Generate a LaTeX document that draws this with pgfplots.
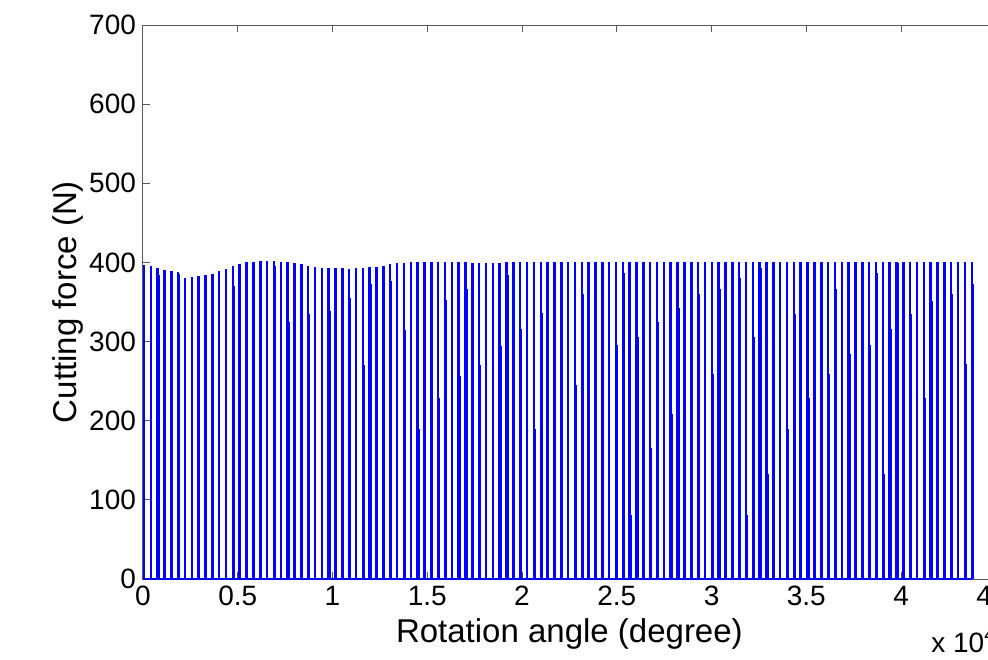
\documentclass[border=0pt]{standalone}
\usepackage{pgfplots}
\pgfplotsset{compat=1.18}
\usepackage{fontspec}
\setmainfont{Liberation Sans}

\begin{document}
\begin{tikzpicture}
\begin{axis}[
    name=ax,
    scale only axis,
    width=426.4pt, height=277pt,
    xmin=0, xmax=4.5, ymin=0, ymax=700,
    xtick={0,0.5,...,4.5},
    xticklabels={0,0.5,1,1.5,2,2.5,3,3.5,4,4.5},
    ytick={0,100,...,700},
    tick align=inside,
    major tick length=3.5pt,
    axis line style={black!65, line width=0.5pt},
    every tick/.style={black!65, line width=0.5pt},
    /pgf/number format/assume math mode=true,
    tick label style={font=\fontsize{14}{14}\selectfont},
    label style={font=\fontsize{16.5}{16.5}\selectfont},
    xlabel={Rotation angle (degree)},
    ylabel={Cutting force (N)},
    xlabel style={at={(axis description cs:0.5,-0.058)}, anchor=north},
    ylabel style={at={(axis description cs:-0.0874,0.5)}, anchor=center},
    clip=false,
]
% baseline between teeth
\addplot[blue, line width=1.2pt] coordinates {(0,0) (4.3731,0)};
% one tooth per revolution
\addplot[blue, line width=1.25pt, ycomb, mark=none] coordinates {
(0.0050,397) (0.0411,395) (0.0772,393.5) (0.1133,390.5) (0.1494,389.3) (0.1855,387.6)
(0.2216,380) (0.2577,381) (0.2938,383) (0.3299,384) (0.3660,386) (0.4021,389.3)
(0.4382,391.8) (0.4743,396) (0.5104,397.5) (0.5465,400) (0.5826,401) (0.6187,402.3)
(0.6548,402.3) (0.6909,402.3) (0.7270,401) (0.7631,401) (0.7992,399) (0.8353,397.8)
(0.8714,395) (0.9075,393.8) (0.9436,393) (0.9797,392.4) (1.0158,392.4) (1.0519,392.4)
(1.0880,391.2) (1.1241,392.4) (1.1602,392.4) (1.1963,393.7) (1.2324,394.8) (1.2685,396)
(1.3046,398) (1.3407,399) (1.3768,399) (1.4129,400) (1.4490,400) (1.4851,400)
(1.5212,400) (1.5573,400) (1.5934,400) (1.6295,400) (1.6656,400) (1.7017,400)
(1.7378,399.3) (1.7739,399.3) (1.8100,399.3) (1.8461,399.3) (1.8822,399.3) (1.9183,400)
(1.9544,400) (1.9905,400) (2.0266,400) (2.0627,400) (2.0988,400) (2.1349,400)
(2.1710,400) (2.2071,400) (2.2432,400) (2.2793,400) (2.3154,400) (2.3515,400)
(2.3876,400) (2.4237,400) (2.4598,400) (2.4959,400) (2.5320,400) (2.5681,400)
(2.6042,400) (2.6403,400) (2.6764,400) (2.7125,400) (2.7486,400) (2.7847,400)
(2.8208,400) (2.8569,400) (2.8930,400) (2.9291,400) (2.9652,400) (3.0013,400)
(3.0374,400) (3.0735,400) (3.1096,400) (3.1457,400) (3.1818,400) (3.2179,400)
(3.2540,400) (3.2901,400) (3.3262,400) (3.3623,400) (3.3984,400) (3.4345,400)
(3.4706,400) (3.5067,400) (3.5428,400) (3.5789,400) (3.6150,400) (3.6511,400)
(3.6872,400) (3.7233,400) (3.7594,400) (3.7955,400) (3.8316,400) (3.8677,400)
(3.9038,400) (3.9399,400) (3.9760,400) (4.0121,400) (4.0482,400) (4.0843,400)
(4.1204,400) (4.1565,400) (4.1926,400) (4.2287,400) (4.2648,400) (4.3009,400)
(4.3370,400) (4.3731,400)
};
% falling edges that show as darker strokes
\addplot[blue, line width=1.25pt, ycomb, mark=none] coordinates {
(0.0812,384) (0.1895,386) (0.3700,343) (0.4783,370) (0.5866,384) (0.6949,395)
(0.7671,325) (0.8754,335) (0.9837,339) (1.0559,236) (1.0920,355) (1.1642,270)
(1.2003,373) (1.2725,300) (1.3086,377) (1.3808,315) (1.4530,190) (1.4891,335)
(1.5613,229) (1.5974,352) (1.6696,257) (1.7057,366) (1.7779,271) (1.8862,294)
(1.9223,384) (1.9584,131) (1.9945,316) (2.0667,190) (2.1028,336) (2.1750,211)
(2.2111,343) (2.2833,245) (2.3194,360) (2.3916,272) (2.4277,373) (2.4999,296)
(2.5360,387) (2.5721,81) (2.6082,306) (2.6443,393) (2.6804,165) (2.7165,325)
(2.7887,209) (2.8248,343) (2.8970,244) (2.9331,360) (3.0053,259) (3.0414,366)
(3.1136,284) (3.1497,380) (3.1858,81) (3.2219,306) (3.2580,393) (3.2941,133)
(3.3302,325) (3.4024,190) (3.4385,335) (3.5107,229) (3.5468,351) (3.6190,259)
(3.6551,366) (3.7273,284) (3.7634,380) (3.8356,296) (3.8717,387) (3.9078,133)
(3.9439,316) (3.9800,399) (4.0161,190) (4.0522,335) (4.1244,229) (4.1605,351)
(4.2327,244) (4.2688,360) (4.3410,272) (4.3771,373)
};
\end{axis}
\node[anchor=base west, inner sep=0pt, font=\fontsize{14}{14}\selectfont]
    at ([shift={(394pt,-36.5pt)}]ax.south west) {x 10\textsuperscript{4}};
\pgfresetboundingbox
\path[use as bounding box] ([shift={(-71.5pt,-40pt)}]ax.south west)
    rectangle ([shift={(422.5pt,289.5pt)}]ax.south west);
\end{tikzpicture}
\end{document}
